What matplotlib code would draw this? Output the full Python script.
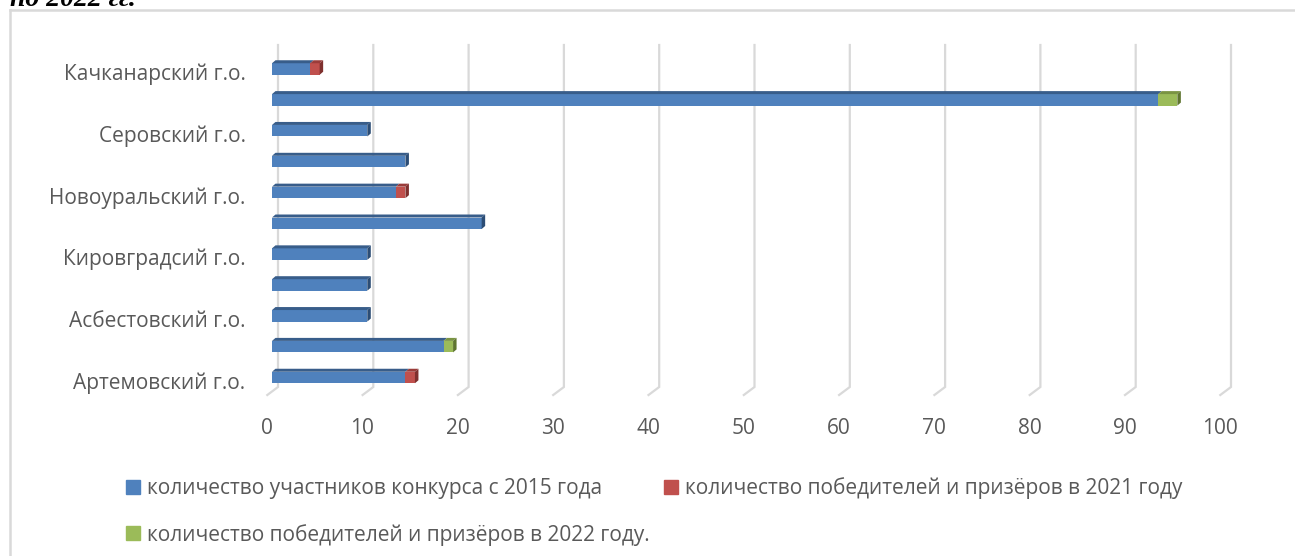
import matplotlib.pyplot as plt
import matplotlib.transforms as mtransforms
from matplotlib.patches import Polygon, Patch
from matplotlib.lines import Line2D

# bottom-to-top, as the bars are drawn
labels = ['Артемовский г.о.', '', 'Асбестовский г.о.', '', 'Кировградсий г.о.', '',
          'Новоуральский г.о.', '', 'Серовский г.о.', '', 'Качканарский г.о.']
participants = [14, 18, 10, 10, 10, 22, 13, 14, 10, 93, 4]
winners_2021 = [1, 0, 0, 0, 0, 0, 1, 0, 0, 0, 1]
winners_2022 = [0, 1, 0, 0, 0, 0, 0, 0, 0, 2, 0]
series_names = ['количество участников конкурса с 2015 года',
                'количество победителей и призёров в 2021 году',
                'количество победителей и призёров в 2022 году.']
xticks = list(range(0, 101, 10))

# face, top, side colours per series
colors = [('#4F81BD', '#385D8A', '#2C4D75'),
          ('#C0504D', '#9A3C3A', '#7F302E'),
          ('#9BBB59', '#7A9443', '#5F7530')]
grid_c = '#D9D9D9'
text_c = '#595959'

plt.rcParams['font.family'] = ['Open Sans', 'DejaVu Sans']

W, H = 1295, 556
fig = plt.figure(figsize=(W / 100, H / 100), dpi=100)

# pixel layout of the plotting area
x0px, pxu = 272, 9.53          # pixel of value 0, pixels per unit
yc0, pyu = 377.5, 30.85        # pixel of bottom bar centre, pixels per bar
ylo, yhi = -0.6, 10.85
top_px = yc0 - yhi * pyu
bot_px = yc0 - ylo * pyu
ax = fig.add_axes([x0px / W, 1 - bot_px / H, 100 * pxu / W, (bot_px - top_px) / H])
ax.set_xlim(0, 100)
ax.set_ylim(ylo, yhi)
ux = 1 / pxu
uy = 1 / pyu

# back wall gridlines with a little floor stub
ytop = (yc0 - 45) * uy
yfl = (yc0 - 387) * uy
yfr = (yc0 - 395) * uy
for v in xticks:
    ax.plot([v + 6 * ux, v + 6 * ux, v - 4.7 * ux], [ytop, yfl, yfr],
            color=grid_c, lw=1.6, zorder=0, clip_on=False, solid_joinstyle='miter')

bh = 11.5 * uy
ddx, ddy = 3.5 * ux, 3 * uy


def bar3d(y, left, width, cols, last):
    face, top, side = cols
    ax.barh(y, width, left=left, height=bh, color=face, edgecolor='none', zorder=2)
    a, b = left, left + width
    yt, yb = y + bh / 2, y - bh / 2
    ax.add_patch(Polygon([(a, yt), (b, yt), (b + ddx, yt + ddy), (a + ddx, yt + ddy)],
                         closed=True, color=top, lw=0, zorder=2))
    if last:
        ax.add_patch(Polygon([(b, yb), (b, yt), (b + ddx, yt + ddy), (b + ddx, yb + ddy)],
                             closed=True, color=side, lw=0, zorder=2))


for i in range(len(labels)):
    segs = [participants[i], winners_2021[i], winners_2022[i]]
    nz = [k for k, s in enumerate(segs) if s > 0]
    left = 0
    for k, s in enumerate(segs):
        if s > 0:
            bar3d(i, left, s, colors[k], k == nz[-1])
            left += s

for sp in ax.spines.values():
    sp.set_visible(False)
ax.set_yticks(range(len(labels)))
ax.set_yticklabels(labels)
ax.set_xticks(xticks)
ax.set_xticklabels([str(v) for v in xticks])
ax.tick_params(axis='y', length=0, pad=19, labelsize=15, labelcolor=text_c)
ax.tick_params(axis='x', length=0, pad=16, labelsize=15, labelcolor=text_c)
shift = mtransforms.ScaledTranslation(-5 / 100, 0, fig.dpi_scale_trans)
for lab in ax.get_xticklabels():
    lab.set_transform(lab.get_transform() + shift)
shift_y = mtransforms.ScaledTranslation(0, -3 / 100, fig.dpi_scale_trans)
for lab in ax.get_yticklabels():
    lab.set_transform(lab.get_transform() + shift_y)

handles = [Patch(color=colors[0][0], label=series_names[0]),
           Patch(color=colors[2][0], label=series_names[2]),
           Patch(color=colors[1][0], label=series_names[1])]
leg = fig.legend(handles=handles, ncol=2, loc='upper left',
                 bbox_to_anchor=(126 / W, 1 - 477 / H), frameon=False,
                 fontsize=15, handlelength=0.65, handleheight=0.65,
                 handletextpad=0.35, columnspacing=0.7, labelspacing=1.2,
                 borderpad=0, borderaxespad=0)
for t in leg.get_texts():
    t.set_color(text_c)

# chart border
fig.add_artist(Line2D([10 / W, 10 / W], [0, 1 - 10 / H], color=grid_c, lw=1.8))
fig.add_artist(Line2D([10 / W, 1], [1 - 10 / H, 1 - 10 / H], color=grid_c, lw=1.8))

# cut-off heading above the chart
fig.text(10 / W, 1 - 6 / H, 'по 2022 гг.', fontfamily='Liberation Serif',
         fontweight='bold', fontstyle='italic', fontsize=20, va='baseline')

fig.savefig('out.png', dpi=100)
